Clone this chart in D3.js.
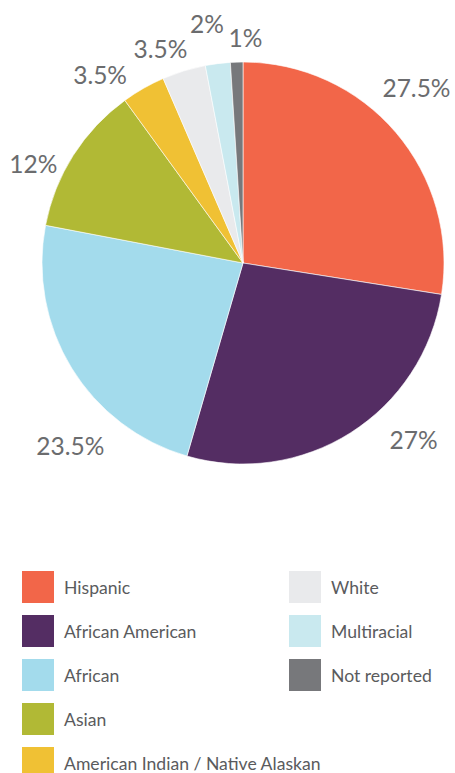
<!DOCTYPE html>
<html><head><meta charset="utf-8">
<script src="https://cdn.jsdelivr.net/npm/d3@7"></script>
<style>html,body{margin:0;padding:0;background:#fff;}</style>
</head><body>
<svg id="c" width="455" height="773"></svg>
<script>
const categories = ["Hispanic","African American","African","Asian","American Indian / Native Alaskan","White","Multiracial","Not reported"];
const values = [27.5, 27, 23.5, 12, 3.5, 3.5, 2, 1];
const labels = ["27.5%","27%","23.5%","12%","3.5%","3.5%","2%","1%"];
const colors = ["#f26649","#542d63","#a3dbec","#b1b935","#f0c134","#e9eaec","#c9e9ef","#77787b"];

// layout-only nudges for label placement
const nudges = [[-9,-20],[42,-26],[32,57],[-7,29],[-24,20],[-12,15],[-6,-1],[10,14]];

const svg = d3.select("#c");
const cx = 243, cy = 263, R = 201;
const data = categories.map((c,i)=>({cat:c, value:values[i], label:labels[i], color:colors[i], i}));
const pie = d3.pie().value(d=>d.value).sort(null);
const arcs = pie(data);
const arc = d3.arc().innerRadius(0).outerRadius(R);
const labelArc = d3.arc().innerRadius(240).outerRadius(240);
const g = svg.append("g").attr("transform",`translate(${cx},${cy})`);
g.selectAll("path").data(arcs).join("path")
  .attr("d",arc).attr("fill",d=>d.data.color)
  .attr("stroke","#fff").attr("stroke-width",0.6);
g.selectAll("text").data(arcs).join("text")
  .attr("x",d=>labelArc.centroid(d)[0]+nudges[d.index][0])
  .attr("y",d=>labelArc.centroid(d)[1]+nudges[d.index][1])
  .attr("text-anchor","middle").attr("dominant-baseline","central")
  .attr("font-family","Lato, sans-serif").attr("font-size",24.5)
  .attr("fill","#6b6c6e").text(d=>d.data.label);

// legend
const leg = svg.append("g");
const rowY = d3.scalePoint().domain(d3.range(5)).range([571,747]);
data.forEach((d,i)=>{
  const c = i<5 ? 0 : 1, r = i<5 ? i : i-5;
  const x = c===0 ? 22 : 289;
  const y = rowY(r);
  leg.append("rect").attr("x",x).attr("y",y).attr("width",32).attr("height",32).attr("fill",d.color);
  leg.append("text").attr("x",x+42).attr("y",y+16).attr("dominant-baseline","central")
    .attr("font-family","Lato, sans-serif").attr("font-size",17.6).attr("fill","#5a5b5d").text(d.cat);
});
</script>
</body></html>
